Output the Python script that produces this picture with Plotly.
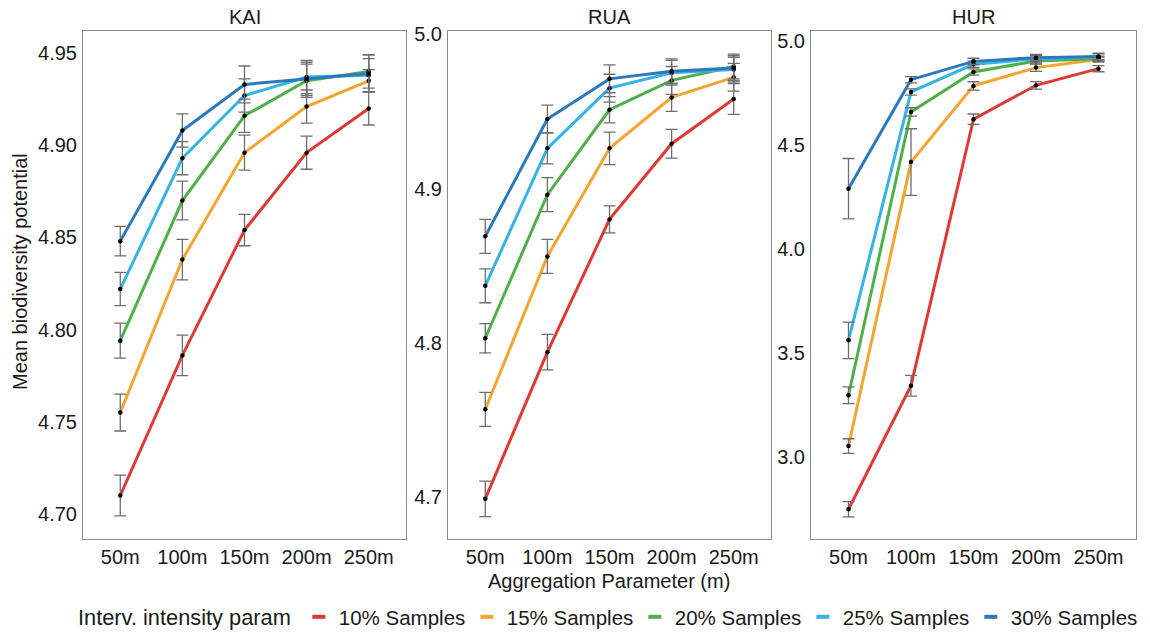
import plotly.graph_objects as go

W, H = 1150, 637

categories = ["50m", "100m", "150m", "200m", "250m"]
series_names = ["10% Samples", "15% Samples", "20% Samples", "25% Samples", "30% Samples"]
colors = ["#DE3A35", "#F5A431", "#4DB04A", "#35B4E3", "#2B78BF"]

# KAI
kai_10 = [4.710, 4.786, 4.854, 4.896, 4.920]
kai_15 = [4.755, 4.838, 4.896, 4.921, 4.935]
kai_20 = [4.794, 4.870, 4.916, 4.935, 4.940]
kai_25 = [4.822, 4.893, 4.927, 4.937, 4.938]
kai_30 = [4.848, 4.908, 4.933, 4.936, 4.939]
kai_err_10 = [0.011, 0.011, 0.0085, 0.009, 0.009]
kai_err_15 = [0.010, 0.011, 0.0095, 0.009, 0.006]
kai_err_20 = [0.0095, 0.0105, 0.009, 0.009, 0.009]
kai_err_25 = [0.009, 0.009, 0.009, 0.009, 0.009]
kai_err_30 = [0.008, 0.009, 0.010, 0.009, 0.010]

# RUA
rua_10 = [4.699, 4.794, 4.880, 4.929, 4.958]
rua_15 = [4.757, 4.856, 4.926, 4.959, 4.972]
rua_20 = [4.803, 4.896, 4.951, 4.970, 4.979]
rua_25 = [4.837, 4.926, 4.965, 4.975, 4.977]
rua_30 = [4.869, 4.945, 4.971, 4.976, 4.978]
rua_err_10 = [0.0115, 0.0115, 0.0087, 0.0093, 0.010]
rua_err_15 = [0.011, 0.011, 0.0105, 0.009, 0.009]
rua_err_20 = [0.0095, 0.011, 0.0085, 0.009, 0.008]
rua_err_25 = [0.011, 0.010, 0.009, 0.008, 0.008]
rua_err_30 = [0.011, 0.009, 0.009, 0.008, 0.008]

# HUR
hur_10 = [2.749, 3.343, 4.624, 4.787, 4.867]
hur_15 = [3.053, 4.418, 4.784, 4.872, 4.911]
hur_20 = [3.297, 4.659, 4.851, 4.904, 4.915]
hur_25 = [3.561, 4.755, 4.888, 4.914, 4.923]
hur_30 = [4.290, 4.814, 4.902, 4.920, 4.926]
hur_err_10 = [0.037, 0.05, 0.025, 0.018, 0.015]
hur_err_15 = [0.035, 0.16, 0.02, 0.018, 0.012]
hur_err_20 = [0.04, 0.02, 0.015, 0.015, 0.012]
hur_err_25 = [0.088, 0.015, 0.015, 0.015, 0.015]
hur_err_30 = [0.145, 0.015, 0.015, 0.015, 0.015]

panels = [
    ("KAI", [kai_10, kai_15, kai_20, kai_25, kai_30],
     [kai_err_10, kai_err_15, kai_err_20, kai_err_25, kai_err_30],
     [4.6864, 4.962], [4.70, 4.75, 4.80, 4.85, 4.90, 4.95], ".2f"),
    ("RUA", [rua_10, rua_15, rua_20, rua_25, rua_30],
     [rua_err_10, rua_err_15, rua_err_20, rua_err_25, rua_err_30],
     [4.673, 5.002], [4.7, 4.8, 4.9, 5.0], ".1f"),
    ("HUR", [hur_10, hur_15, hur_20, hur_25, hur_30],
     [hur_err_10, hur_err_15, hur_err_20, hur_err_25, hur_err_30],
     [2.606, 5.048], [3.0, 3.5, 4.0, 4.5, 5.0], ".1f"),
]

# pixel geometry of panels
x_px = [(83, 406), (448, 771), (811, 1136)]
top_px, bot_px = 31, 539

FONT = "Liberation Sans, Arial, sans-serif"
TXT = "#1a1a1a"

fig = go.Figure()
annotations = []

for p, (name, vals, errs, yr, yt, fmt) in enumerate(panels):
    xa = "x" if p == 0 else f"x{p+1}"
    ya = "y" if p == 0 else f"y{p+1}"
    for s in range(5):
        fig.add_trace(go.Scatter(
            x=categories, y=vals[s], mode="lines",
            line=dict(color=colors[s], width=3),
            name=series_names[s], legendgroup=series_names[s],
            showlegend=False, xaxis=xa, yaxis=ya,
        ))
    for s in range(5):
        fig.add_trace(go.Scatter(
            x=categories, y=vals[s], mode="markers",
            marker=dict(color="black", size=4.5),
            error_y=dict(type="data", array=errs[s], color="#6e6e6e",
                         thickness=1.3, width=6),
            showlegend=False, legendgroup=series_names[s],
            xaxis=xa, yaxis=ya, hoverinfo="skip",
        ))
    x0, x1 = x_px[p]
    dom_x = [x0 / W, x1 / W]
    dom_y = [1 - bot_px / H, 1 - top_px / H]
    axis_common = dict(showline=True, mirror=True, linecolor="#8a8a8a", linewidth=1,
                       showgrid=False, zeroline=False, ticks="", automargin=False,
                       tickfont=dict(family=FONT, size=20, color=TXT))
    fig.update_layout(**{
        ("xaxis" if p == 0 else f"xaxis{p+1}"): dict(
            domain=dom_x, anchor=ya, type="category", categoryorder="array",
            categoryarray=categories, range=[-0.6, 4.6], ticklabelstandoff=0,
            **axis_common),
        ("yaxis" if p == 0 else f"yaxis{p+1}"): dict(
            domain=dom_y, anchor=xa, range=yr, tickvals=yt, tickformat=fmt,
            ticklabelstandoff=1, **axis_common),
    })
    annotations.append(dict(
        text=name, x=(x0 + x1) / 2 / W, y=1 - 17 / H, xref="paper", yref="paper",
        xanchor="center", yanchor="middle", showarrow=False,
        font=dict(family=FONT, size=20, color=TXT)))

# legend entries: short horizontal dash keys, one per series
for s in range(5):
    fig.add_trace(go.Scatter(
        x=[None], y=[None], mode="markers",
        marker=dict(symbol="line-ew-open", size=9.3, color=colors[s],
                    line=dict(color=colors[s], width=4)),
        name=series_names[s], legendgroup=series_names[s], showlegend=True,
        hoverinfo="skip",
    ))

annotations.append(dict(
    text="Mean biodiversity potential", x=20 / W, y=1 - 272 / H,
    xref="paper", yref="paper", xanchor="center", yanchor="middle",
    textangle=-90, showarrow=False, font=dict(family=FONT, size=20, color=TXT)))
annotations.append(dict(
    text="Aggregation Parameter (m)", x=609 / W, y=1 - 581 / H,
    xref="paper", yref="paper", xanchor="center", yanchor="middle",
    showarrow=False, font=dict(family=FONT, size=20, color=TXT)))

fig.update_layout(
    width=W, height=H,
    margin=dict(l=0, r=0, t=0, b=0),
    paper_bgcolor="white", plot_bgcolor="white",
    annotations=annotations,
    showlegend=True,
    legend=dict(
        orientation="h", x=76 / W, y=1 - 617 / H, xanchor="left", yanchor="middle",
        title=dict(text="Interv. intensity param", side="left",
                   font=dict(family=FONT, size=21.8, color=TXT)),
        font=dict(family=FONT, size=20.5, color=TXT),
        entrywidth=123, entrywidthmode="pixels", itemwidth=30,
        itemsizing="trace",
        bgcolor="rgba(0,0,0,0)",
    ),
)

fig.write_html("out.html")
